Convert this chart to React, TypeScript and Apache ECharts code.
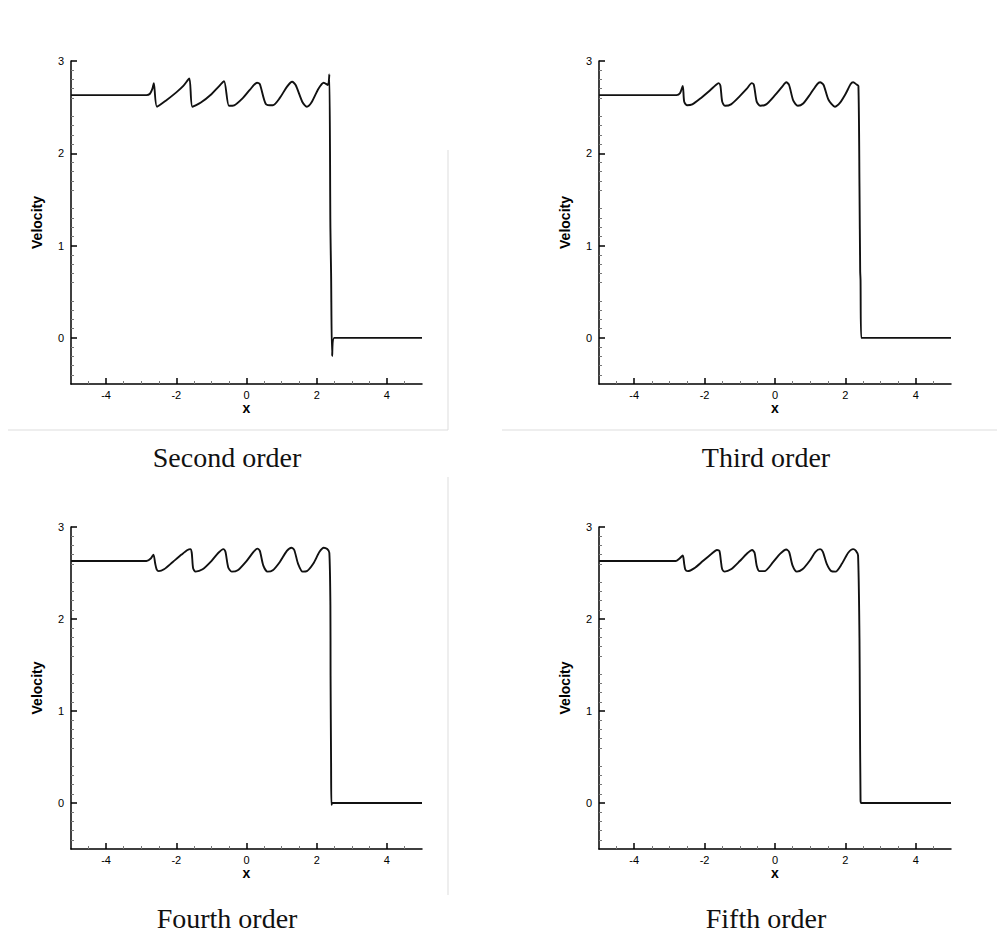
import React, { useEffect, useRef } from "react";
import * as echarts from "echarts";

// ---- Data (x, velocity) ----
const secondOrder: number[][] = [
  [-5, 2.63], [-2.85, 2.63], [-2.75, 2.645], [-2.68, 2.7], [-2.64, 2.76], [-2.55, 2.505],
  [-2.3, 2.57], [-2.0, 2.66], [-1.8, 2.73], [-1.63, 2.81], [-1.54, 2.505], [-1.3, 2.55],
  [-1.0, 2.64], [-0.8, 2.72], [-0.64, 2.78], [-0.5, 2.515], [-0.35, 2.52], [-0.1, 2.6],
  [0.1, 2.69], [0.3, 2.765], [0.38, 2.75], [0.55, 2.535], [0.75, 2.52], [0.95, 2.6],
  [1.15, 2.72], [1.3, 2.775], [1.4, 2.74], [1.6, 2.55], [1.72, 2.505], [1.85, 2.55],
  [2.05, 2.7], [2.2, 2.765], [2.32, 2.74], [2.36, 2.855], [2.39, 1.2], [2.41, 0.7],
  [2.44, -0.2], [2.5, 0.0], [5, 0],
];

const thirdOrder: number[][] = [
  [-5, 2.63], [-2.8, 2.63], [-2.7, 2.65], [-2.62, 2.73], [-2.58, 2.56], [-2.5, 2.52],
  [-2.35, 2.53], [-2.1, 2.6], [-1.85, 2.68], [-1.68, 2.74], [-1.6, 2.76], [-1.55, 2.73],
  [-1.5, 2.56], [-1.42, 2.515], [-1.25, 2.53], [-1.0, 2.62], [-0.8, 2.7], [-0.66, 2.76],
  [-0.6, 2.74], [-0.52, 2.56], [-0.42, 2.515], [-0.25, 2.53], [0.0, 2.63], [0.2, 2.72],
  [0.32, 2.77], [0.4, 2.74], [0.52, 2.57], [0.65, 2.515], [0.8, 2.54], [1.0, 2.64],
  [1.2, 2.75], [1.28, 2.77], [1.38, 2.74], [1.52, 2.58], [1.7, 2.505], [1.85, 2.55],
  [2.0, 2.64], [2.15, 2.75], [2.22, 2.77], [2.32, 2.745], [2.37, 2.73], [2.4, 1.64],
  [2.42, 0.72], [2.43, 0.63], [2.45, 0.0], [5, 0],
];

const fourthOrder: number[][] = [
  [-5, 2.63], [-2.85, 2.63], [-2.72, 2.66], [-2.65, 2.7], [-2.6, 2.6], [-2.56, 2.54],
  [-2.5, 2.52], [-2.35, 2.54], [-2.1, 2.62], [-1.85, 2.7], [-1.68, 2.75], [-1.6, 2.76],
  [-1.56, 2.72], [-1.52, 2.55], [-1.45, 2.515], [-1.25, 2.54], [-1.0, 2.63], [-0.8, 2.72],
  [-0.66, 2.76], [-0.6, 2.73], [-0.52, 2.56], [-0.42, 2.515], [-0.25, 2.53], [0.0, 2.63],
  [0.2, 2.73], [0.31, 2.765], [0.38, 2.74], [0.48, 2.58], [0.6, 2.515], [0.75, 2.53],
  [0.95, 2.62], [1.15, 2.74], [1.28, 2.775], [1.36, 2.75], [1.47, 2.6], [1.6, 2.515],
  [1.72, 2.52], [1.9, 2.6], [2.08, 2.73], [2.2, 2.775], [2.3, 2.76], [2.36, 2.72],
  [2.39, 2.15], [2.395, 1.39], [2.41, 0.42], [2.42, -0.02], [2.45, 0.0], [5, 0],
];

const fifthOrder: number[][] = [
  [-5, 2.63], [-2.82, 2.63], [-2.72, 2.655], [-2.62, 2.69], [-2.58, 2.6], [-2.55, 2.54],
  [-2.48, 2.52], [-2.3, 2.55], [-2.05, 2.63], [-1.8, 2.71], [-1.65, 2.75], [-1.58, 2.74],
  [-1.54, 2.64], [-1.5, 2.54], [-1.43, 2.515], [-1.25, 2.54], [-1.0, 2.63], [-0.8, 2.71],
  [-0.65, 2.75], [-0.58, 2.72], [-0.52, 2.58], [-0.44, 2.52], [-0.3, 2.52], [-0.05, 2.62],
  [0.15, 2.71], [0.32, 2.755], [0.4, 2.73], [0.5, 2.58], [0.62, 2.515], [0.78, 2.54],
  [0.98, 2.63], [1.15, 2.73], [1.28, 2.76], [1.36, 2.73], [1.47, 2.6], [1.6, 2.52],
  [1.72, 2.515], [1.9, 2.6], [2.08, 2.72], [2.22, 2.76], [2.3, 2.74], [2.36, 2.69],
  [2.4, 1.79], [2.41, 1.14], [2.43, 0.03], [2.45, 0.0], [5, 0],
];

const captions = ["Second order", "Third order", "Fourth order", "Fifth order"];
const xTickValues = [-4, -2, 0, 2, 4];
const yTickValues = [0, 1, 2, 3];
const xName = "x";
const yName = "Velocity";

const seriesData = [secondOrder, thirdOrder, fourthOrder, fifthOrder];

// layout of the four panels (pixel positions)
const gridPos = [
  { left: 71, top: 61, width: 351, height: 323 },
  { left: 599, top: 61, width: 352, height: 323 },
  { left: 71, top: 527, width: 351, height: 322 },
  { left: 599, top: 527, width: 352, height: 322 },
];
const captionPos = [
  { x: 227, y: 457 },
  { x: 766, y: 457 },
  { x: 227, y: 918 },
  { x: 766, y: 918 },
];

export default function App() {
  const ref = useRef<HTMLDivElement>(null);
  useEffect(() => {
    if (!ref.current) return;
    const chart = echarts.init(ref.current, null, { renderer: "svg" });
    const axisFont = { fontFamily: "Liberation Sans, Arial, sans-serif" };
    const option: any = {
      animation: false,
      backgroundColor: "#ffffff",
      grid: gridPos.map((g) => ({ ...g, containLabel: false })),
      xAxis: gridPos.map((_, i) => ({
        type: "value",
        gridIndex: i,
        min: -5,
        max: 5,
        splitNumber: 5,
        name: xName,
        nameLocation: "middle",
        nameGap: 16,
        nameTextStyle: { ...axisFont, fontSize: 14, fontWeight: "bold", color: "#000", verticalAlign: "top" },
        axisLine: { show: true, onZero: false, lineStyle: { color: "#000", width: 1.5 } },
        axisTick: { show: true, inside: true, length: 6, customValues: xTickValues, lineStyle: { color: "#000", width: 1.5 } },
        minorTick: { show: true, splitNumber: 4, length: 3, lineStyle: { color: "#777", width: 1 } },
        axisLabel: { customValues: xTickValues, margin: 5, fontSize: 11, color: "#000", ...axisFont },
        splitLine: { show: false },
        minorSplitLine: { show: false },
      })),
      yAxis: gridPos.map((_, i) => ({
        type: "value",
        gridIndex: i,
        min: -0.5,
        max: 3,
        splitNumber: 5,
        name: yName,
        nameLocation: "middle",
        nameGap: 27,
        nameTextStyle: { ...axisFont, fontSize: 14, fontWeight: "bold", color: "#000" },
        axisLine: { show: true, onZero: false, lineStyle: { color: "#000", width: 1.5 } },
        axisTick: { show: true, inside: true, length: 6, customValues: yTickValues, lineStyle: { color: "#000", width: 1.5 } },
        minorTick: { show: true, splitNumber: 5, length: 3, lineStyle: { color: "#777", width: 1 } },
        axisLabel: { customValues: yTickValues, margin: 7, fontSize: 11, color: "#000", ...axisFont },
        splitLine: { show: false },
        minorSplitLine: { show: false },
      })),
      series: seriesData.map((d, i) => ({
        type: "line",
        name: captions[i],
        xAxisIndex: i,
        yAxisIndex: i,
        data: d,
        showSymbol: false,
        symbol: "none",
        smooth: 0.25,
        lineStyle: { color: "#111", width: 1.9 },
      })),
      graphic: [
        ...captions.map((c, i) => ({
          type: "text",
          x: captionPos[i].x,
          y: captionPos[i].y,
          style: {
            text: c,
            fontFamily: "Liberation Serif, DejaVu Serif, serif",
            fontSize: 28,
            fill: "#111",
            align: "center",
            verticalAlign: "middle",
          },
        })),
        { type: "line", shape: { x1: 8, y1: 430, x2: 448, y2: 430 }, style: { stroke: "#dddddd", lineWidth: 1 } },
        { type: "line", shape: { x1: 448, y1: 150, x2: 448, y2: 430 }, style: { stroke: "#dddddd", lineWidth: 1 } },
        { type: "line", shape: { x1: 502, y1: 430, x2: 997, y2: 430 }, style: { stroke: "#dddddd", lineWidth: 1 } },
        { type: "line", shape: { x1: 448, y1: 477, x2: 448, y2: 895 }, style: { stroke: "#dddddd", lineWidth: 1 } },
      ],
    };
    chart.setOption(option);
    return () => chart.dispose();
  }, []);
  return (
    <div
      ref={ref}
      style={{ position: "absolute", left: 0, top: 0, width: 997, height: 938 }}
    />
  );
}
